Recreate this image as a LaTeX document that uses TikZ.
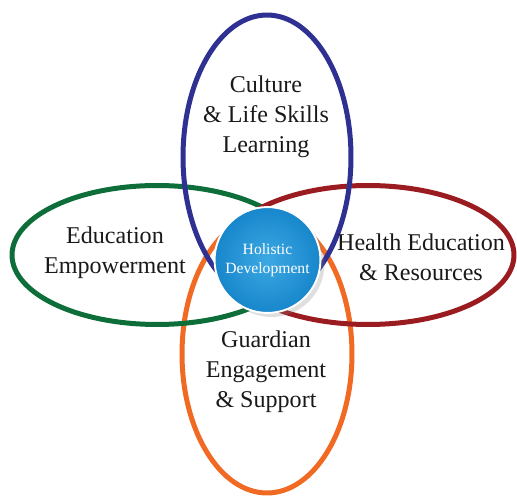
\documentclass[tikz,border=0pt]{standalone}
\usepackage{fontspec}
\setmainfont{Liberation Serif}
\usepackage{tikz}
\usetikzlibrary{shapes.geometric,shadows}

\definecolor{cultureblue}{HTML}{2E3192}
\definecolor{educgreen}{HTML}{0E6E3A}
\definecolor{healthred}{HTML}{9B1C20}
\definecolor{guardorange}{HTML}{F06A24}
\definecolor{coreblue}{HTML}{1786CB}
\definecolor{corelight}{HTML}{3DA9E4}

\tikzset{
  ring/.style={ellipse,line width=0.1cm,inner sep=0pt,fill=none},
  label/.style={align=center,font=\fontsize{13.7}{17}\selectfont,text=black!90}
}

\begin{document}
\begin{tikzpicture}[x=0.02cm,y=-0.02cm]

      \useasboundingbox (0,0) rectangle (517,496);

      \node[ring,draw=guardorange,minimum width=3.4cm,minimum height=5.56cm] (guardian) at (267,354){};
      \node[ring,draw=educgreen,minimum width=5.8cm,minimum height=2.78cm] (education) at (157,255){};
      \node[ring,draw=healthred,minimum width=5.84cm,minimum height=2.78cm] (health) at (368,255){};
      \node[ring,draw=cultureblue,minimum width=3.36cm,minimum height=5.68cm] (culture) at (267,157){};

      \node[circle,draw=white,line width=1.1pt,inner color=corelight,outer color=coreblue,
            minimum size=1.96cm,drop shadow={opacity=0.25},align=center,text=white,
            font=\fontsize{8.9}{11}\selectfont] (core) at (267.5,260){Holistic\\Development};

      \node[label] (culturetxt) at (266,117){Culture\\\& Life Skills\\Learning};
      \node[label] (eductxt) at (115,253){Education\\Empowerment};
      \node[label] (healthtxt) at (421,257){Health Education\\\& Resources};
      \node[label] (guardtxt) at (266,372){Guardian\\Engagement\\\& Support};

    \end{tikzpicture}
\end{document}
